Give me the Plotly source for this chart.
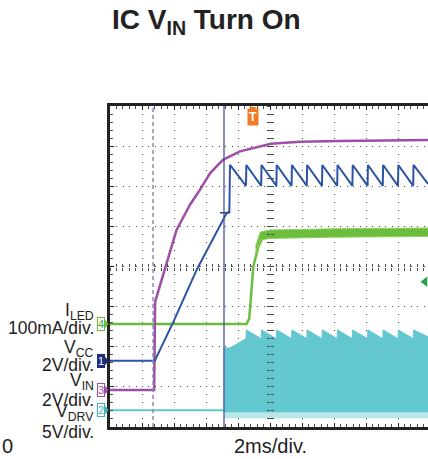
import plotly.graph_objects as go

# ---------------- data (time in ms, 2 ms/div; amplitude in screen divisions) ----------------
vin_t = [0, 2.76, 2.82, 3.44, 4.16, 5.0, 5.62, 6.26, 7.06, 8.12, 9.16, 10.06, 11.88, 14.38, 19.875]
vin_v = [0.92, 0.92, 3.12, 3.92, 4.91, 5.54, 5.91, 6.33, 6.66, 6.87, 6.97, 7.06, 7.11, 7.13, 7.15]

vcc_t = [0, 2.8, 3.96, 5.42, 7.3, 7.46, 7.5,
         8.5, 8.52, 9.45, 9.47, 10.4, 10.42, 11.35, 11.37, 12.3, 12.32, 13.25, 13.27,
         14.2, 14.22, 15.15, 15.17, 16.1, 16.12, 17.05, 17.07, 18.0, 18.02, 18.95, 18.97, 19.875]
vcc_v = [1.65, 1.65, 2.62, 3.92, 5.34, 5.36, 6.53,
         6.01, 6.53, 6.01, 6.53, 6.01, 6.53, 6.01, 6.53, 6.01, 6.53, 6.01, 6.53,
         6.01, 6.53, 6.01, 6.53, 6.01, 6.53, 6.01, 6.53, 6.01, 6.53, 6.01, 6.53, 6.06]

iled_t = [0, 8.54, 8.7, 8.86, 8.96, 9.28, 9.58, 10.2, 19.875]
iled_v = [2.57, 2.57, 2.7, 3.4, 4.0, 4.5, 4.76, 4.8, 4.86]
iled_band_t = [9.1, 9.4, 10.0, 14.0, 19.875]
iled_band_hi = [4.5, 4.86, 4.91, 4.94, 4.96]
iled_band_lo = [4.32, 4.66, 4.70, 4.73, 4.75]

vdrv_t = [0, 7.125]
vdrv_v = [0.42, 0.42]
vdrv_top_t = [7.125, 7.125, 7.5,
              8.5, 8.52, 9.45, 9.47, 10.4, 10.42, 11.35, 11.37, 12.3, 12.32, 13.25, 13.27,
              14.2, 14.22, 15.15, 15.17, 16.1, 16.12, 17.05, 17.07, 18.0, 18.02, 18.95, 18.97, 19.875]
vdrv_top_v = [0.42, 1.97, 1.97,
              2.2, 2.42, 2.2, 2.42, 2.2, 2.42, 2.2, 2.42, 2.2, 2.42, 2.2, 2.42,
              2.2, 2.42, 2.2, 2.42, 2.2, 2.42, 2.2, 2.42, 2.2, 2.42, 2.2, 2.42, 2.25]
vdrv_bot_t = [7.125, 19.875]
vdrv_bot_v = [0.36, 0.36]
vdrv_fringe_v = [0.22, 0.22]

cursor_solid_t = 7.125
cursor_dash_t = 2.69
cursor_mark_t = [6.875, 7.5]
cursor_mark_v = [5.34, 5.34]
trigger_t = 8.94
trig_level_t = [19.69]
trig_level_v = [3.62]

channel_names = ["I<sub>LED</sub>", "V<sub>CC</sub>", "V<sub>IN</sub>", "V<sub>DRV</sub>"]
channel_scales = ["100mA/div.", "2V/div.", "2V/div.", "5V/div."]

# ---------------- colours ----------------
C_VIN = "#9d4ea6"
C_VCC = "#2c54a6"
C_ILED = "#6cbd3c"
C_VDRV = "#62c7cf"
C_GRID = "#4a4a4a"
C_FRAME = "#222222"

W, H = 428, 459
ML, MR, MT, MB = 110, 0, 106, 32
PW, PH = W - ML - MR, H - MT - MB
X_RANGE = [0, 19.875]
Y_RANGE = [0, 8]


def px_x(px):
    return (px - ML) / PW


def px_y(py):
    return (H - MB - py) / PH


fig = go.Figure()

# VDRV switching band (fringe + core)
fig.add_trace(go.Scatter(x=vdrv_bot_t, y=vdrv_fringe_v, mode="lines", line=dict(width=0, color=C_VDRV),
                         hoverinfo="skip", showlegend=False))
fig.add_trace(go.Scatter(x=vdrv_bot_t, y=vdrv_bot_v, mode="lines", line=dict(width=0, color=C_VDRV),
                         fill="tonexty", fillcolor="rgba(98,199,207,0.45)", hoverinfo="skip", showlegend=False))
fig.add_trace(go.Scatter(x=vdrv_top_t, y=vdrv_top_v, mode="lines", line=dict(width=1, color=C_VDRV),
                         fill="tonexty", fillcolor=C_VDRV, hoverinfo="skip", showlegend=False))
fig.add_trace(go.Scatter(x=vdrv_t, y=vdrv_v, mode="lines", line=dict(width=2, color=C_VDRV),
                         hoverinfo="skip", showlegend=False))

# ILED
fig.add_trace(go.Scatter(x=iled_t, y=iled_v, mode="lines", line=dict(width=2.5, color=C_ILED),
                         hoverinfo="skip", showlegend=False))
fig.add_trace(go.Scatter(x=iled_band_t, y=iled_band_lo, mode="lines", line=dict(width=1, color="#8fd163"),
                         hoverinfo="skip", showlegend=False))
fig.add_trace(go.Scatter(x=iled_band_t, y=iled_band_hi, mode="lines", line=dict(width=1, color="#8fd163"),
                         fill="tonexty", fillcolor=C_ILED, hoverinfo="skip", showlegend=False))

# VIN
fig.add_trace(go.Scatter(x=vin_t, y=vin_v, mode="lines", line=dict(width=2.5, color=C_VIN),
                         hoverinfo="skip", showlegend=False))
# VCC
fig.add_trace(go.Scatter(x=vcc_t, y=vcc_v, mode="lines", line=dict(width=2, color=C_VCC),
                         hoverinfo="skip", showlegend=False))
# cursor mark on VCC
fig.add_trace(go.Scatter(x=cursor_mark_t, y=cursor_mark_v, mode="lines", line=dict(width=1.5, color="#2a3a8a"),
                         hoverinfo="skip", showlegend=False))
# trigger level arrow
fig.add_trace(go.Scatter(x=trig_level_t, y=trig_level_v, mode="markers",
                         marker=dict(symbol="triangle-left", size=9, color="#2e9e4a"),
                         hoverinfo="skip", showlegend=False, cliponaxis=False))

# dummy traces for crosshair axes
fig.add_trace(go.Scatter(x=[None], y=[None], xaxis="x2", yaxis="y2", showlegend=False, hoverinfo="skip"))
fig.add_trace(go.Scatter(x=[None], y=[None], xaxis="x3", yaxis="y3", showlegend=False, hoverinfo="skip"))

# cursors
fig.add_vline(x=cursor_solid_t, line=dict(color="#4b52a0", width=1.3))
fig.add_vline(x=cursor_dash_t, line=dict(color="#8e86b8", width=1.5, dash="4px,3px"))

common_x = dict(range=X_RANGE, showticklabels=False, zeroline=False)
common_y = dict(range=Y_RANGE, showticklabels=False, zeroline=False)

fig.update_layout(
    width=W, height=H,
    margin=dict(l=ML, r=MR, t=MT, b=MB),
    paper_bgcolor="white", plot_bgcolor="white",
    showlegend=False,
    xaxis=dict(**common_x, dtick=2, tick0=0, showgrid=True, gridcolor=C_GRID, gridwidth=1,
               griddash="1px,7px", ticks="inside", ticklen=4, tickcolor=C_FRAME,
               showline=True, linecolor=C_FRAME, linewidth=2.5, mirror="ticks",
               minor=dict(dtick=0.4, ticks="inside", ticklen=3, tickcolor=C_GRID, showgrid=False)),
    yaxis=dict(**common_y, dtick=1, tick0=0, showgrid=True, gridcolor=C_GRID, gridwidth=1,
               griddash="1px,5.4px", ticks="inside", ticklen=4, tickcolor=C_FRAME,
               showline=True, linecolor=C_FRAME, linewidth=2.5, mirror=False,
               minor=dict(dtick=0.2, ticks="inside", ticklen=3, tickcolor=C_GRID, showgrid=False)),
    xaxis2=dict(**common_x, overlaying="x", anchor="free", position=0.5, dtick=0.4, tick0=0,
                ticks="outside", ticklen=3, tickcolor=C_GRID, showgrid=False, showline=False),
    xaxis3=dict(**common_x, overlaying="x", anchor="free", position=0.5, dtick=0.4, tick0=0,
                ticks="inside", ticklen=3, tickcolor=C_GRID, showgrid=False, showline=False),
    yaxis2=dict(**common_y, overlaying="y", anchor="free", position=px_x(270), dtick=0.2, tick0=0,
                ticks="outside", ticklen=3, tickcolor=C_GRID, showgrid=False, showline=False),
    yaxis3=dict(**common_y, overlaying="y", anchor="free", position=px_x(270), dtick=0.2, tick0=0,
                ticks="inside", ticklen=3, tickcolor=C_GRID, showgrid=False, showline=False),
    font=dict(family="Liberation Sans, Arial, sans-serif", color="#222"),
)

ann = []
# title
ann.append(dict(text="<b>IC V<sub>IN</sub> Turn On</b>", x=px_x(206.5), y=px_y(22), xref="paper", yref="paper",
                xanchor="center", yanchor="middle", showarrow=False, font=dict(size=28, color="#222")))
# bottom labels
ann.append(dict(text="0", x=px_x(0), y=px_y(446), xref="paper", yref="paper", xanchor="left", yanchor="middle",
                showarrow=False, font=dict(size=20)))
ann.append(dict(text="2ms/div.", x=px_x(270), y=px_y(446), xref="paper", yref="paper", xanchor="center",
                yanchor="middle", showarrow=False, font=dict(size=20)))
# channel labels
name_y = [311, 348, 381, 412]
scale_y = [328, 365, 400, 432]
for nm, sc, ny, sy in zip(channel_names, channel_scales, name_y, scale_y):
    ann.append(dict(text=nm, x=px_x(96), y=px_y(ny), xref="paper", yref="paper", xanchor="right",
                    yanchor="middle", showarrow=False, font=dict(size=17.5)))
    ann.append(dict(text=sc, x=px_x(96), y=px_y(sy), xref="paper", yref="paper", xanchor="right",
                    yanchor="middle", showarrow=False, font=dict(size=17.5)))
# channel markers
markers = [("4", 324, C_ILED, "white", "#3fa33f"), ("1", 361, "#1f2d7a", "#1f2d7a", "white"),
           ("3", 390, C_VIN, "white", C_VIN), ("2", 410, "#3cb5c0", "white", "#3cb5c0")]
shapes = []
for lab, py, bc, bg, fc in markers:
    ann.append(dict(text=lab, x=px_x(100.5), y=px_y(py), xref="paper", yref="paper", xanchor="center",
                    yanchor="middle", showarrow=False, font=dict(size=11, color=fc),
                    bordercolor=bc, borderwidth=1, bgcolor=bg, borderpad=0))
    shapes.append(dict(type="path", xref="paper", yref="paper",
                       path=f"M{px_x(104.5)},{px_y(py - 5)} L{px_x(108.5)},{px_y(py)} L{px_x(104.5)},{px_y(py + 5)} Z",
                       fillcolor=bc, line=dict(width=0)))
# trigger T
tx = (trigger_t - X_RANGE[0]) / (X_RANGE[1] - X_RANGE[0])
ann.append(dict(text="<b>T</b>", x=tx, y=px_y(117),
                xref="paper", yref="paper", xanchor="center", yanchor="middle", showarrow=False,
                font=dict(size=12, color="white"), bgcolor="#f07a2a", borderpad=1))
shapes.append(dict(type="path", xref="paper", yref="paper",
                   path=f"M{tx - 3.5 / PW},{px_y(107)} L{tx + 3.5 / PW},{px_y(107)} L{tx},{px_y(111)} Z",
                   fillcolor="#f07a2a", line=dict(width=0)))
fig.update_layout(annotations=ann, shapes=list(fig.layout.shapes) + shapes)

fig.write_html("out.html", config={"displayModeBar": False},
               post_script="document.body.style.margin='0px';")
